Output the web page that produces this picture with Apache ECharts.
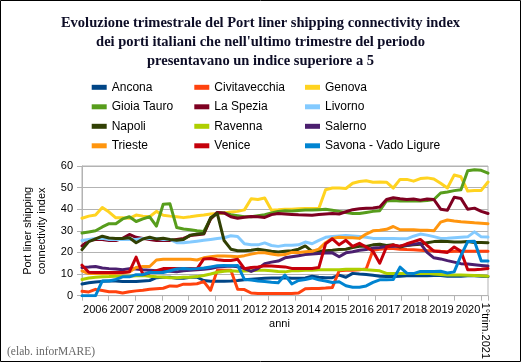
<!DOCTYPE html>
<html><head><meta charset="utf-8">
<script src="https://cdn.jsdelivr.net/npm/echarts@6/dist/echarts.min.js"></script>
<style>html,body{margin:0;padding:0;background:#fff}#c{width:521px;height:362px}</style>
</head><body><div id="c"></div>
<script>
// ---- data ----
const years = [2006,2007,2008,2009,2010,2011,2012,2013,2014,2015,2016,2017,2018,2019,2020];
const quarterNames = ['T1','T2','T3','T4'];
const yearLabels = ['2006','2007','2008','2009','2010','2011','2012','2013','2014','2015','2016','2017','2018','2019','2020'];
const lastLabel = '1°trim.2021';
const yTicks = [0,10,20,30,40,50,60];

const ancona = [5.4,6,6.3,6.6,6.8,6.8,6.5,6.5,6.5,6.8,7,8.3,8.5,8.5,8,8,
  8.5,8.5,7,6.7,6.7,6.7,6.8,7,7.3,7.6,7.8,8,8.2,8.2,8.3,
  8,8,8.2,9,8.5,8.3,8.3,9.5,8.5,10.3,10,9.8,9.4,9,8.9,8.9,9,9.2,9.2,9.3,9.2,9.3,9.3,9,9,9,9.2,9.2,9,8.8];
const civitavecchia = [2,1.7,2.9,2.4,1.8,1.8,1.2,1.8,2.2,2.5,3,3.2,3.4,4.5,4.3,5.3,
  5.3,5.5,6.5,2.5,11.8,11.8,11.7,3,2.8,1.2,1,1,1,1,1,
  1,1.2,3.2,3.3,3.3,3.5,3.8,11.5,11.8,11.8,12,12.3,21,21.5,21.8,21.8,21.5,21.3,21.2,21,20.8,20.8,20.5,20.3,20.5,20.5,20.5,20.5,20.5,20.5];
const genova = [35.8,36.8,37.3,40.8,38.7,36,36,35.8,37.3,36.8,36.5,39,37.2,36.8,36.5,36.1,
  36.5,37,37.3,37.8,38,38.3,38.7,39,39.7,44.8,44.5,45.2,39.5,39.7,40,
  40,40.2,40.3,40.3,40.3,49,49.8,49.8,49.6,52,52.8,53.2,52.5,52.6,52.5,49.8,53.8,53.8,53,54.2,54.5,54,52,49.8,55.8,55,48.4,48.7,48.7,52.6];
const gioiaTauro = [29,29.5,30,31.8,33.3,33.3,35.5,36.5,34.3,35.5,36.5,32.2,42.3,42.5,31.5,30.8,
  30.5,30,29.7,35.5,38.5,38.3,37.5,37,36.5,36.5,37,37.5,38.3,39,39.3,
  39.2,39.4,39.6,39.6,39.8,40,39.5,39,38.5,38,38,38.5,39,39.3,43.8,44,43.8,43.8,43.8,43.8,44,44.5,47.5,48,48.6,49,57.8,58.3,58,56.7];
const laSpezia = [23,25.5,26,26,25.5,25.5,26.5,28.3,27,26.5,26,25.5,25.5,25.5,26,26.5,
  27.8,28.2,28.5,35.5,38.5,38.3,36.5,35.8,36.3,36.6,36.5,36.2,37.5,38,37.8,
  37.6,37.4,37.3,37.2,37.5,37.8,38,37.8,38.8,39.8,40.2,40.4,40.6,41,44.5,45.3,44.8,44.5,44.7,44.2,44.7,44.5,40,39.5,45.5,45,40,40.5,39,38];
const livorno = [25.5,26,26.5,26.5,26,26,26,26,26,26.5,26.5,26.5,26,26,24.5,24.5,
  24.8,25.2,25.6,26,26.4,26.8,27.7,27.4,24,23.6,23.5,24.4,23.2,22.8,23.3,
  23.3,23.5,24.8,24,25.6,27,27.4,27.6,27.8,27.6,27.4,27,26.5,26.4,26.4,26.5,26.3,26.3,27.5,28.5,28,27.3,26.5,26.6,26.8,27,27.2,29.5,27.2,27.1];
const napoli = [21.3,25,26.3,27.5,26.7,26.4,26.4,26.8,24.5,26.2,27,26.2,26.6,26,25.6,26,
  28,28.5,28.8,36,38,25.5,21.5,20.8,20.8,21,21.5,21,20.5,20.2,20.5,
  20.8,21.5,23,20.5,20.6,20.8,21,21.3,21.5,22.3,22.8,22.8,23.5,23.8,23.2,23.5,22.5,23.2,23.5,23.8,24.5,25,25.2,25,24.8,24.8,25,24.6,24.6,24.5];
const ravenna = [7.5,8.2,8.5,8.7,8.8,9,9,9,9.2,9.3,9,8.7,8.5,8.3,8.3,8.5,
  8.5,8.8,9.3,10,10.8,11.3,11.5,11.3,11.4,11.5,11.7,11.8,11.5,11.2,11,
  11.5,11.5,11.7,11.8,12,12,12,12,12.2,12.2,12.2,12,11.8,11.5,10.3,10.2,10.2,10.2,10.2,10.2,10.3,10,9.8,9.5,9.5,9.5,9.4,9.3,9.2,9];
const salerno = [13,13.2,13.5,12.8,12.5,12.3,12,12.5,12.3,12,11.8,11.5,11.5,11.3,11,11.5,
  11.7,12,12.2,12.5,13.2,13.5,13.7,13.4,12.5,11.2,12.5,14.8,15.5,16,17.5,
  18,18.5,19,19.3,19.5,19.7,19.8,18,19.8,20.3,21,21.3,22,22.3,22.7,22.8,23,23.3,23.8,24.2,20,17.5,17,16.2,15.5,14.8,14.6,14.3,14,13.7];
const trieste = [11.5,10.2,10.2,10.2,10.3,10.3,10.5,11,13,13.5,13.5,16.5,16.8,16.8,16.8,16.8,
  16.8,16.5,17.5,18,18.3,18.3,18.2,18,18.5,19.2,19.8,19.8,19.3,18.8,19,
  20,20,20.3,20.5,21.5,24.5,26.5,27,26.8,26.8,26.5,28.5,30,30.3,30.7,32,30.5,30.5,30.5,30.3,30.3,30,34,35,34.5,34.2,34,33.7,33.5,33.3];
const venice = [14.1,10.8,10.7,10.7,10.7,10.7,10.7,11,17.8,9.8,10.5,11.5,12.5,12.5,12.6,12.6,
  12.6,12.4,17,17.2,16.6,16.3,16.3,16.8,12.5,13,13.3,13.8,13.7,13.5,13.3,
  12.6,12.5,12.5,12.6,13,24,26.3,23.5,25.6,22.8,24.2,22.5,20.5,15,22.5,23.5,22.8,24,25,26,23.3,20.6,20.3,20,22.5,20.5,12,12,12.2,12.6];
const savona = [0,0,0,6.8,6.8,7.5,8.7,8.7,9.7,9.7,10.7,10.7,10.7,11.5,12.3,12.6,
  12.3,12.5,12.8,13.3,13.8,14,13.8,14,7.5,7.2,6.8,6.5,6.2,6,9.5,
  5.4,7,7.5,8.2,7.3,6.8,6.1,6.4,4.6,3.9,3.9,4.5,6.1,7.3,7.3,7.5,13.2,10.4,10.2,11.2,11.2,11.2,11.3,10.5,11,18.5,25,25.2,16,16];

const seriesNames = ['Ancona','Civitavecchia','Genova','Gioia Tauro','La Spezia','Livorno','Napoli','Ravenna','Salerno','Trieste','Venice','Savona - Vado Ligure'];
const seriesData = [ancona,civitavecchia,genova,gioiaTauro,laSpezia,livorno,napoli,ravenna,salerno,trieste,venice,savona];
const seriesColors = ['#004586','#ff420e','#ffd320','#579d1c','#7e0021','#83caff','#314004','#aecf00','#4b1f6f','#ff950e','#c5000b','#0084d1'];

// categories: quarters 2006 T1 ... 2021 T1
const quarters = [];
years.forEach(y => quarterNames.forEach(q => quarters.push(y + ' ' + q)));
quarters.push('2021 T1');

const legendCols = [
  ['Ancona','Gioia Tauro','Napoli','Trieste'],
  ['Civitavecchia','La Spezia','Ravenna','Venice'],
  ['Genova','Livorno','Salerno','Savona - Vado Ligure']
];
const legendLeft = [91.7, 194.3, 305];

const gray = '#b3b3b3';
const sans = 'Liberation Sans, Arial, sans-serif';

const chart = echarts.init(document.getElementById('c'), null, {renderer: 'canvas'});
chart.setOption({
  animation: false,
  backgroundColor: '#fff',
  title: {
    text: 'Evoluzione trimestrale del Port liner shipping connectivity index\ndei porti italiani che nell\'ultimo trimestre del periodo\npresentavano un indice superiore a 5',
    left: 'center', top: 14, padding: 0,
    textStyle: {fontFamily: 'Liberation Serif, Times New Roman, serif', fontWeight: 'bold', fontSize: 14.5, lineHeight: 19, color: '#0d0d26'}
  },
  legend: legendCols.map((names, k) => ({
    data: names, orient: 'vertical', left: legendLeft[k], top: 81.3, padding: 0,
    itemWidth: 15, itemHeight: 5, itemGap: 7.5, icon: 'rect', selectedMode: false,
    textStyle: {fontFamily: sans, fontSize: 12, color: '#000', lineHeight: 12}
  })),
  grid: {left: 82, right: 33, top: 166, bottom: 58, show: true, borderColor: gray, borderWidth: 1, backgroundColor: 'transparent', containLabel: false},
  xAxis: [
    {
      type: 'category', data: quarters, boundaryGap: false, position: 'bottom',
      axisLine: {show: true, lineStyle: {color: gray, width: 1}},
      axisTick: {show: false}, axisLabel: {show: false}, splitLine: {show: false},
      name: 'anni', nameLocation: 'middle', nameGap: 23,
      nameTextStyle: {fontFamily: sans, fontSize: 11, color: '#000', padding: [0, 11, 0, 0]}
    },
    {
      type: 'category', data: quarters, boundaryGap: true, position: 'bottom',
      axisLine: {show: false},
      axisTick: {show: true, interval: 3, length: 5, lineStyle: {color: gray}},
      axisLabel: {
        show: true, interval: (i) => i % 4 === 1 && i < 60, margin: 9,
        formatter: (v, i) => yearLabels[Math.floor(i / 4)],
        fontFamily: sans, fontSize: 11, color: '#000', padding: [0, 0, 0, 6.66]
      },
      splitLine: {show: false}
    },
    {
      type: 'category', data: quarters, boundaryGap: true, position: 'bottom',
      axisLine: {show: false}, axisTick: {show: false},
      axisLabel: {
        show: true, interval: (i) => i === 60, rotate: -90, margin: 7,
        formatter: () => lastLabel, fontFamily: sans, fontSize: 11, color: '#000'
      },
      splitLine: {show: false}
    }
  ],
  yAxis: {
    type: 'value', min: yTicks[0], max: yTicks[yTicks.length - 1], interval: 10,
    axisLine: {show: true, lineStyle: {color: gray}},
    axisTick: {show: true, length: 5, lineStyle: {color: gray}},
    splitLine: {show: true, lineStyle: {color: gray, width: 1}},
    axisLabel: {fontFamily: sans, fontSize: 11, color: '#000', margin: 9},
    name: 'Port liner shipping\nconnectivity index', nameLocation: 'middle', nameGap: 33,
    nameTextStyle: {fontFamily: sans, fontSize: 11, lineHeight: 14, color: '#000'}
  },
  series: seriesNames.map((n, k) => ({
    name: n, type: 'line', data: seriesData[k], xAxisIndex: 0, yAxisIndex: 0,
    symbol: 'none', showSymbol: false, smooth: false,
    lineStyle: {width: 3, color: seriesColors[k], join: 'round', cap: 'round'},
    itemStyle: {color: seriesColors[k]},
    emphasis: {disabled: true}
  })),
  graphic: [
    {type: 'rect', shape: {x: 0.5, y: 0.5, width: 520, height: 361}, style: {fill: null, stroke: '#000', lineWidth: 1}, silent: true},
    {type: 'text', x: 7, y: 352, style: {text: '(elab. inforMARE)', fontFamily: 'Liberation Serif, serif', fontSize: 11.5, fill: '#666', verticalAlign: 'middle'}, silent: true}
  ]
});
</script></body></html>
